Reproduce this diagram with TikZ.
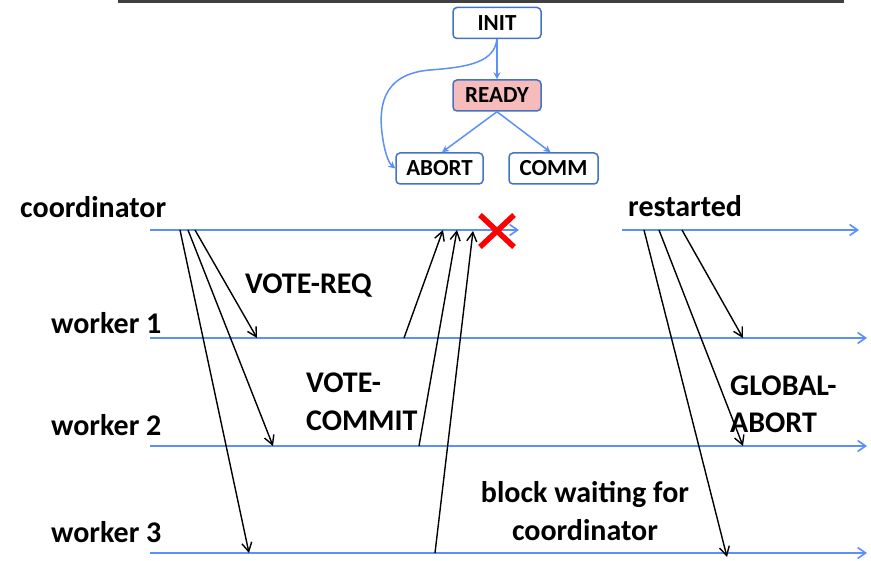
\documentclass[tikz,border=0pt]{standalone}
\usepackage{fontspec}
\setmainfont{Carlito}
\usetikzlibrary{arrows.meta}
\definecolor{lifeblue}{RGB}{91,143,249}
\definecolor{boxblue}{RGB}{68,114,196}
\definecolor{readyfill}{RGB}{246,188,188}
\definecolor{topgray}{RGB}{64,64,64}
\begin{document}
\begin{tikzpicture}[x=1pt,y=-1pt,
  lifeline/.style={draw=lifeblue, line width=1.6pt},
  lifearrow/.style={lifeline, -{Straight Barb[length=8pt,width=11pt]}},
  msg/.style={draw=black, line width=1.4pt, -{Straight Barb[length=9pt,width=10pt]}},
  state/.style={draw=boxblue, line width=1.5pt, rounded corners=4pt, minimum width=88pt,
     minimum height=31pt, inner sep=0pt, font=\fontsize{23}{27}\selectfont\bfseries},
  statearrow/.style={draw=lifeblue, line width=1.5pt, -{Stealth[length=7pt,width=7pt]}},
  lbl/.style={font=\fontsize{30}{37.5}\selectfont\bfseries, inner sep=0pt, anchor=base west},
  lblc/.style={lbl, anchor=base}]
\useasboundingbox (0,0) rectangle (871,561);
\draw[topgray, line width=3pt] (118,1.5) -- (844,1.5);

% state diagram
\node[state] (INIT) at (497,23) {INIT};
\node[state, fill=readyfill] (READY) at (497,95.5) {READY};
\node[state, minimum width=87pt] (ABORT) at (439.5,168.5) {ABORT};
\node[state, minimum width=89pt] (COMM) at (553.5,168.5) {COMM};
\draw[statearrow] (INIT.south) -- (READY.north);
\draw[statearrow] (READY.south) -- ([xshift=2.5pt]ABORT.north);
\draw[statearrow] (READY.south) -- ([xshift=-3pt]COMM.north);
\coordinate (cb) at (430,70);
\draw[statearrow] (INIT.south) .. controls (494,62) and (470,67) .. (cb)
  .. controls (380,74) and (378,110) .. (383,140)
  .. controls (386,158) and (390,164) .. (ABORT.west);

% lifelines
\coordinate (coS) at (150,230); \coordinate (coE) at (519,230);
\coordinate (crS) at (622,230); \coordinate (crE) at (859,230);
\coordinate (w1S) at (150,338); \coordinate (w1E) at (867,338);
\coordinate (w2S) at (150,446); \coordinate (w2E) at (867,446);
\coordinate (w3S) at (150,553); \coordinate (w3E) at (867,553);
\draw[lifearrow] (coS) -- (coE);
\draw[lifearrow] (crS) -- (crE);
\draw[lifearrow] (w1S) -- (w1E);
\draw[lifearrow] (w2S) -- (w2E);
\draw[lifearrow] (w3S) -- (w3E);

% labels
\node[lbl] (lco) at (20,218) {coordinator};
\node[lbl] (lw1) at (51,334) {worker 1};
\node[lbl] (lw2) at (51,436) {worker 2};
\node[lbl] (lw3) at (51,542) {worker 3};
\node[lbl] (lre) at (628,217) {restarted};
\node[lbl] (lvr) at (245,294) {VOTE-REQ};
\node[lbl] (lvc1) at (306,393) {VOTE-};
\node[lbl] (lvc2) at (306,431) {COMMIT};
\node[lbl] (lga1) at (730,396) {GLOBAL-};
\node[lbl] (lga2) at (730,433) {ABORT};
\node[lblc] (lbw1) at (585,503) {block waiting for};
\node[lblc] (lbw2) at (585,540) {coordinator};

% VOTE-REQ messages
\coordinate (q1s) at (195,230); \coordinate (q1e) at (257,338);
\coordinate (q2s) at (188,230); \coordinate (q2e) at (273,446);
\coordinate (q3s) at (180,230); \coordinate (q3e) at (249,553);
\draw[msg] (q1s) -- (q1e);
\draw[msg] (q2s) -- (q2e);
\draw[msg] (q3s) -- (q3e);

% VOTE-COMMIT messages
\coordinate (v1s) at (404,338); \coordinate (v1e) at (443,230);
\coordinate (v2s) at (419,446); \coordinate (v2e) at (457,230);
\coordinate (v3s) at (435,553); \coordinate (v3e) at (473,231);
\draw[msg] (v1s) -- (v1e);
\draw[msg] (v2s) -- (v2e);
\draw[msg] (v3s) -- (v3e);

% GLOBAL-ABORT messages
\coordinate (g1s) at (682,230); \coordinate (g1e) at (743,338);
\coordinate (g2s) at (659,230); \coordinate (g2e) at (743,446);
\coordinate (g3s) at (644,230); \coordinate (g3e) at (727,557);
\draw[msg] (g1s) -- (g1e);
\draw[msg] (g2s) -- (g2e);
\draw[msg] (g3s) -- (g3e);

% crash mark
\draw[red, line width=5.5pt] (480,215) -- (514,247) (480,247) -- (514,215);
\end{tikzpicture}
\end{document}
